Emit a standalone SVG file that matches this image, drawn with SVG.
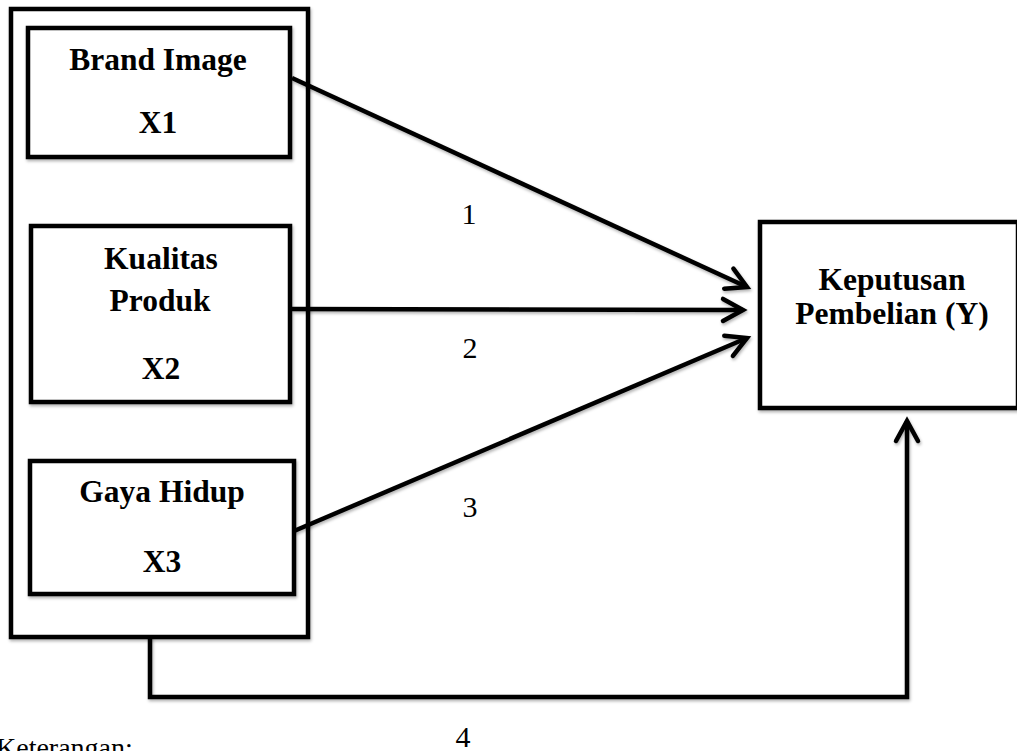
<svg xmlns="http://www.w3.org/2000/svg" width="1017" height="751" viewBox="0 0 1017 751">
<style>
.box{fill:#fff;stroke:#000;stroke-width:4.5;filter:url(#sh)}
.ln{fill:none;stroke:#000;stroke-width:4.5;filter:url(#sh)}
.t{font-family:"Liberation Serif","Times New Roman",serif;font-weight:bold;font-size:31.5px;fill:#000;text-anchor:middle}
.n{font-family:"Liberation Serif","Times New Roman",serif;font-size:30px;fill:#000;text-anchor:middle}
</style>
<defs>
<filter id="sh" filterUnits="userSpaceOnUse" x="0" y="0" width="1017" height="751">
<feDropShadow dx="1" dy="2" stdDeviation="1.5" flood-color="#000" flood-opacity="0.3"/>
</filter>
<marker id="ah" markerUnits="userSpaceOnUse" viewBox="-30 -20 40 40" markerWidth="40" markerHeight="40" refX="0" refY="0" orient="auto" overflow="visible">
<path d="M -20 -11 L 0 0 L -20 11" fill="none" stroke="#000" stroke-width="4.5" stroke-linecap="round" stroke-linejoin="miter"/>
</marker>
</defs>
<g id="outer"><rect class="box" x="11" y="9" width="297" height="628"/></g>
<g id="x1"><rect class="box" x="28" y="28" width="262" height="129"/>
<text class="t" x="158" y="70">Brand Image</text>
<text class="t" x="158" y="133">X1</text></g>
<g id="x2"><rect class="box" x="31" y="226" width="259" height="176"/>
<text class="t" x="161" y="269">Kualitas</text>
<text class="t" x="160" y="311">Produk</text>
<text class="t" x="161" y="379">X2</text></g>
<g id="x3"><rect class="box" x="30" y="461" width="264" height="133"/>
<text class="t" x="162" y="502">Gaya Hidup</text>
<text class="t" x="162" y="572">X3</text></g>
<g id="y"><rect class="box" x="760" y="222" width="258" height="186"/>
<text class="t" x="892" y="290">Keputusan</text>
<text class="t" x="892" y="324">Pembelian (Y)</text></g>
<g id="connectors">
<line class="ln" x1="292" y1="78" x2="747" y2="287" marker-end="url(#ah)"/>
<line class="ln" x1="292" y1="309" x2="743" y2="310" marker-end="url(#ah)"/>
<line class="ln" x1="294" y1="531" x2="747" y2="338" marker-end="url(#ah)"/>
<polyline class="ln" points="150,637 150,697 907,697 907,421" marker-end="url(#ah)"/>
</g>
<g id="labels">
<text class="n" x="469" y="224">1</text>
<text class="n" x="470" y="358">2</text>
<text class="n" x="470" y="517">3</text>
<text class="n" x="463" y="747">4</text>
<text class="n" x="-4" y="757" style="text-anchor:start;font-size:28px">Keterangan:</text>
</g>
</svg>
